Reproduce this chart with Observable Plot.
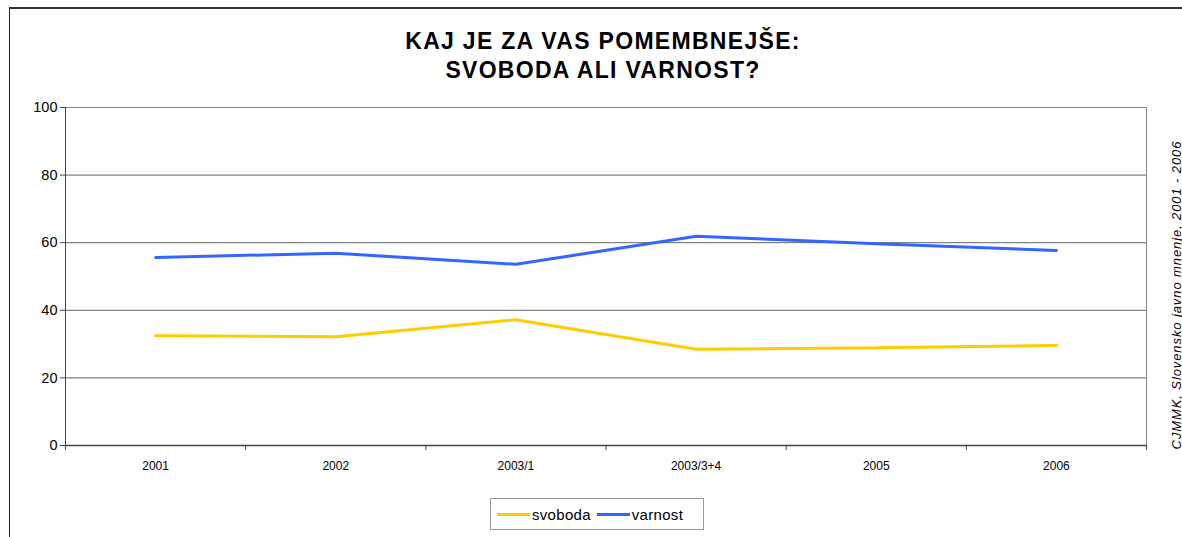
<!DOCTYPE html>
<html>
<head>
<meta charset="utf-8">
<script src="https://cdn.jsdelivr.net/npm/d3@7"></script>
<script src="https://cdn.jsdelivr.net/npm/@observablehq/plot@0.6"></script>
<style>
  html, body { margin: 0; padding: 0; background: #fff; }
  #wrap { position: relative; width: 1182px; height: 537px; overflow: hidden; font-family: "Liberation Sans", Arial, sans-serif; }
  #border { position: absolute; left: 9px; top: 7px; width: 1200px; height: 600px; border-top: 2px solid #333; border-left: 1px solid #222; }
  #title { position: absolute; left: 12px; width: 1182px; top: 27px; text-align: center; font-weight: bold; font-size: 23px; line-height: 29px; letter-spacing: 1.3px; color: #000; }
  #chart { position: absolute; left: 0; top: 0; }
  #source { position: absolute; left: 1176px; top: 295px; transform: translate(-50%, -50%) rotate(-90deg); white-space: nowrap; font-style: italic; font-size: 13px; letter-spacing: 0.9px; color: #000; }
  #legend { position: absolute; left: 490px; top: 498px; width: 214px; height: 32px; border: 1px solid #999; background: #fff; box-sizing: border-box; display: flex; align-items: center; font-size: 15px; color: #000; }
  .sw { display: inline-block; width: 33px; height: 3px; margin: 0 2px 0 6px; }
</style>
</head>
<body>
<div id="wrap">
  <div id="border"></div>
  <div id="chart"></div>
  <div id="title">KAJ JE ZA VAS POMEMBNEJŠE:<br>SVOBODA ALI VARNOST?</div>
  <div id="source">CJMMK, Slovensko javno mnenje, 2001 - 2006</div>
  <div id="legend"></div>
</div>
<script>
const categories = ["2001", "2002", "2003/1", "2003/3+4", "2005", "2006"];
const svoboda = [32.5, 32.2, 37.2, 28.5, 28.9, 29.6];
const varnost = [55.6, 56.9, 53.6, 61.9, 59.7, 57.7];
const seriesNames = ["svoboda", "varnost"];
const seriesColors = ["#FFCC00", "#3366FF"];
const yTicks = [0, 20, 40, 60, 80, 100];

const rows = [];
categories.forEach((c, i) => {
  rows.push({ i, series: "svoboda", value: svoboda[i] });
  rows.push({ i, series: "varnost", value: varnost[i] });
});
const idx = categories.map((c, i) => i);
const edges = d3.range(categories.length + 1).map(k => k - 0.5);

const chart = Plot.plot({
  width: 1182,
  height: 537,
  marginLeft: 65,
  marginRight: 36,
  marginTop: 107,
  marginBottom: 92,
  style: { fontFamily: "'Liberation Sans', Arial, sans-serif", background: "transparent" },
  x: { type: "linear", domain: [-0.5, categories.length - 0.5] },
  y: { domain: [0, 100] },
  color: { domain: seriesNames, range: seriesColors },
  marks: [
    Plot.gridY(yTicks, { stroke: "#666", strokeOpacity: 1 }),
    Plot.frame({ stroke: "#888" }),
    Plot.ruleX([edges[0]], { stroke: "#444" }),
    Plot.ruleY([0], { stroke: "#444", strokeWidth: 1.5 }),
    Plot.axisY(yTicks, { tickSize: 5, tickPadding: 3, fontSize: 14.5, label: null, stroke: "#444", fill: "#000" }),
    Plot.axisX(edges, { tickSize: 5, tickFormat: () => "", label: null, stroke: "#444" }),
    Plot.axisX(idx, { tickSize: 0, tickPadding: 16, fontSize: 12, label: null, tickFormat: i => categories[i], fill: "#000" }),
    Plot.line(rows, { x: "i", y: "value", z: "series", stroke: "series", strokeWidth: 3, strokeLinejoin: "miter" })
  ]
});
document.getElementById("chart").appendChild(chart);

const legend = document.getElementById("legend");
seriesNames.forEach((n, k) => {
  const sw = document.createElement("span");
  sw.className = "sw";
  sw.style.background = seriesColors[k];
  legend.appendChild(sw);
  const t = document.createElement("span");
  t.textContent = n;
  t.style.letterSpacing = "0.3px";
  legend.appendChild(t);
});
</script>
</body>
</html>
